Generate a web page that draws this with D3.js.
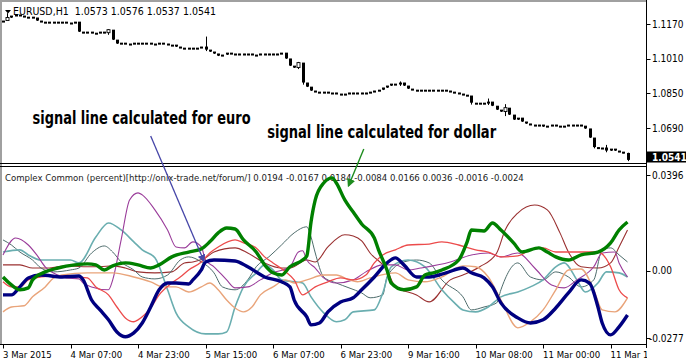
<!DOCTYPE html>
<html>
<head>
<meta charset="utf-8">
<script src="https://cdn.jsdelivr.net/npm/d3@7"></script>
<style>
  body { margin: 0; background: #fff; }
  svg text { font-family: "DejaVu Sans", "Liberation Sans", sans-serif; font-stretch: condensed; }
</style>
</head>
<body>
<div id="chart"></div>
<script>
// ---- price window (EURUSD H1) ----
const symbol = "EURUSD,H1";
const lastBar = { open: 1.0573, high: 1.0576, low: 1.0537, close: 1.0541 };
const firstOpen = 1.1180;
const closes = [
  1.1184, 1.1198, 1.1207, 1.1212, 1.1207, 1.1202, 1.1202, 1.1198, 1.1184, 1.1179,
  1.1179, 1.1175, 1.1179, 1.1175, 1.1179, 1.1175, 1.1175, 1.1179, 1.1133, 1.1128,
  1.1133, 1.1128, 1.1128, 1.1133, 1.1128, 1.1142, 1.1096, 1.1078, 1.1082, 1.1078,
  1.1078, 1.1082, 1.1078, 1.1082, 1.1082, 1.1078, 1.1078, 1.1082, 1.1078, 1.1073,
  1.1073, 1.1064, 1.1059, 1.1055, 1.1059, 1.1055, 1.1059, 1.1064, 1.1050, 1.1041,
  1.1032, 1.1022, 1.1027, 1.1036, 1.1032, 1.1032, 1.1027, 1.1032, 1.1032, 1.1027,
  1.1027, 1.1032, 1.1027, 1.1032, 1.1027, 1.1032, 1.1036, 1.1009, 1.0976, 1.0967,
  1.0990, 1.0898, 1.0879, 1.0861, 1.0856, 1.0852, 1.0856, 1.0852, 1.0852, 1.0847,
  1.0842, 1.0847, 1.0852, 1.0847, 1.0852, 1.0847, 1.0852, 1.0856, 1.0861, 1.0865,
  1.0875, 1.0884, 1.0893, 1.0889, 1.0898, 1.0884, 1.0870, 1.0865, 1.0861, 1.0865,
  1.0861, 1.0865, 1.0865, 1.0861, 1.0865, 1.0861, 1.0856, 1.0852, 1.0847, 1.0842,
  1.0838, 1.0805, 1.0801, 1.0805, 1.0801, 1.0810, 1.0791, 1.0773, 1.0764, 1.0782,
  1.0750, 1.0727, 1.0736, 1.0718, 1.0709, 1.0704, 1.0699, 1.0704, 1.0695, 1.0699,
  1.0704, 1.0699, 1.0695, 1.0699, 1.0704, 1.0699, 1.0704, 1.0699, 1.0686, 1.0644,
  1.0600, 1.0593, 1.0598, 1.0584, 1.0593, 1.0584, 1.0579, 1.0573, 1.0541
];
// [bar, high, low] where a wick shows past the body
const wicks = [
  [1, 1.1220, 1.1190], [25, 1.1146, 1.1120], [48, 1.1112, 1.1045], [70, 1.0995, 1.0962],
  [71, 1.0990, 1.0890], [94, 1.0905, 1.0884], [111, 1.0830, 1.0798], [115, 1.0826, 1.0796],
  [119, 1.0800, 1.0745], [140, 1.0640, 1.0596], [143, 1.0612, 1.0578], [148, 1.0576, 1.0537]
];
const priceTicks = [1.1170, 1.1010, 1.0850, 1.0690];

// ---- indicator window ----
const indicatorName = "Complex Common (percent)[http://onix-trade.net/forum/]";
const indicatorValues = [0.0194, -0.0167, 0.0184, -0.0084, 0.0166, 0.0036, -0.0016, -0.0024];
const indTicks = [0.0396, 0.00, -0.0277];
const indTickLabels = ["0.0396", "0.00", "-0.0277"];

// time axis: bar index -> label
const timeTicks = [0, 16, 32, 48, 64, 80, 96, 112, 128, 144];
const timeLabels = ["3 Mar 2015", "4 Mar 07:00", "4 Mar 23:00", "5 Mar 15:00", "6 Mar 07:00",
  "6 Mar 23:00", "9 Mar 16:00", "10 Mar 08:00", "11 Mar 00:00", "11 Mar 16:00"];

// [bar, value]
const usdLine = [[0,-0.0025],[2,-0.0058],[4,-0.0078],[6,-0.0070],[7,-0.0037],[10,-0.0004],[13,0.0012],[17,0.0025],[20,0.0029],[22,0.0025],[24,0.0004],[26,0.0021],[29,0.0033],[32,0.0025],[35,0.0012],[37,0.0025],[40,0.0058],[44,0.0078],[47,0.0091],[49,0.0120],[51,0.0157],[53,0.0177],[55,0.0173],[57,0.0128],[60,0.0078],[62,0.0025],[64,-0.0008],[66,-0.0017],[68,0.0017],[71,0.0045],[72,0.0062],[73,0.0202],[74,0.0293],[76,0.0363],[78,0.0384],[79,0.0363],[81,0.0293],[83,0.0243],[85,0.0194],[88,0.0136],[89,0.0087],[91,0.0004],[92,-0.0050],[95,-0.0078],[98,-0.0066],[100,-0.0017],[102,-0.0008],[104,0.0004],[108,0.0045],[110,0.0120],[111,0.0169],[114,0.0165],[116,0.0198],[118,0.0169],[121,0.0116],[123,0.0078],[127,0.0095],[129,0.0078],[131,0.0058],[134,0.0045],[137,0.0066],[141,0.0078],[144,0.0116],[146,0.0169],[148,0.0202]];
const eurLine = [[0,-0.0099],[2,-0.0099],[4,-0.0066],[6,-0.0029],[9,-0.0017],[14,-0.0025],[18,-0.0021],[19,-0.0037],[21,-0.0120],[23,-0.0161],[25,-0.0202],[27,-0.0252],[29,-0.0272],[31,-0.0256],[33,-0.0215],[35,-0.0149],[37,-0.0078],[39,-0.0050],[41,-0.0050],[44,-0.0054],[45,-0.0037],[47,0.0004],[48,0.0037],[50,0.0045],[55,0.0041],[58,0.0017],[62,-0.0025],[66,-0.0045],[68,-0.0066],[69,-0.0120],[72,-0.0190],[73,-0.0223],[75,-0.0215],[77,-0.0169],[80,-0.0128],[83,-0.0111],[85,-0.0078],[88,-0.0025],[91,0.0033],[93,0.0054],[95,0.0025],[98,-0.0025],[101,-0.0025],[105,-0.0008],[109,0.0012],[111,-0.0008],[114,-0.0029],[116,-0.0066],[118,-0.0132],[122,-0.0194],[125,-0.0215],[128,-0.0202],[131,-0.0153],[134,-0.0091],[137,-0.0037],[139,-0.0050],[141,-0.0149],[142,-0.0215],[144,-0.0264],[146,-0.0231],[148,-0.0182]];
const maroonLine = [[0,0.0025],[4,0.0025],[7,0.0012],[11,0.0012],[15,0.0021],[19,0.0017],[23,0.0017],[26,0.0021],[29,0.0012],[32,-0.0004],[36,-0.0008],[40,-0.0004],[43,0.0033],[45,0.0037],[48,0.0054],[50,0.0078],[55,0.0095],[58,0.0074],[62,0.0033],[66,0.0012],[68,0.0012],[72,0.0045],[74,0.0037],[77,0.0099],[81,0.0149],[83,0.0144],[85,0.0124],[87,0.0074],[91,0.0004],[93,-0.0066],[98,-0.0099],[101,-0.0128],[106,-0.0037],[109,-0.0017],[113,0.0017],[117,0.0074],[119,0.0169],[122,0.0239],[126,0.0272],[129,0.0252],[132,0.0157],[134,0.0078],[137,0.0017],[141,0.0012],[144,0.0033],[146,0.0099],[148,0.0169]];
const redLine = [[0,-0.0045],[2,-0.0066],[4,-0.0066],[6,-0.0037],[9,-0.0025],[12,-0.0021],[18,-0.0025],[20,-0.0029],[22,-0.0066],[25,-0.0099],[27,-0.0149],[29,-0.0194],[31,-0.0210],[32,-0.0202],[35,-0.0153],[37,-0.0099],[40,-0.0050],[42,-0.0025],[44,0.0004],[47,0.0037],[49,0.0074],[51,0.0099],[55,0.0128],[57,0.0116],[60,0.0095],[62,0.0058],[64,0.0033],[67,-0.0004],[69,-0.0037],[71,-0.0099],[72,-0.0091],[74,-0.0066],[77,-0.0045],[80,-0.0029],[83,-0.0037],[86,-0.0017],[88,0.0033],[90,0.0066],[93,0.0087],[96,0.0107],[101,0.0111],[104,0.0120],[108,0.0107],[112,0.0087],[115,0.0078],[118,0.0058],[122,0.0062],[125,0.0087],[128,0.0095],[131,0.0078],[137,0.0078],[141,0.0078],[144,0.0017],[146,-0.0078],[148,-0.0111]];
const peachLine = [[0,-0.0169],[2,-0.0149],[5,-0.0144],[7,-0.0107],[10,-0.0066],[12,-0.0029],[14,-0.0017],[20,-0.0008],[26,-0.0008],[31,-0.0025],[35,-0.0045],[38,-0.0066],[41,-0.0066],[44,-0.0087],[47,-0.0066],[49,-0.0050],[51,-0.0078],[53,-0.0120],[55,-0.0153],[57,-0.0169],[59,-0.0149],[61,-0.0099],[64,-0.0066],[67,-0.0037],[69,-0.0050],[72,-0.0037],[76,-0.0017],[79,-0.0017],[82,-0.0037],[84,-0.0045],[87,-0.0029],[93,-0.0008],[96,-0.0037],[100,-0.0045],[104,-0.0025],[109,0.0021],[112,0.0017],[115,-0.0025],[118,-0.0120],[122,-0.0235],[125,-0.0210],[128,-0.0161],[131,-0.0078],[134,0.0004],[137,0.0008],[140,-0.0078],[142,-0.0161],[145,-0.0169],[148,-0.0111]];
const grayLine = [[0,0.0128],[2,0.0107],[4,0.0078],[7,0.0045],[9,0.0012],[12,-0.0004],[16,0.0004],[18,0.0012],[21,0.0074],[24,0.0103],[26,0.0078],[28,0.0037],[31,0.0004],[33,-0.0025],[36,-0.0033],[39,-0.0017],[42,0.0045],[44,0.0058],[47,0.0037],[50,-0.0008],[52,-0.0066],[55,-0.0078],[58,-0.0037],[60,0.0017],[63,0.0058],[66,0.0107],[69,0.0157],[72,0.0182],[73,0.0140],[74,0.0074],[76,-0.0025],[79,-0.0050],[82,-0.0070],[85,-0.0091],[87,-0.0111],[90,-0.0099],[91,-0.0025],[95,0.0037],[98,0.0045],[101,0.0033],[104,-0.0037],[109,-0.0107],[111,-0.0161],[114,-0.0149],[117,-0.0132],[118,-0.0078],[122,0.0033],[125,-0.0025],[128,-0.0037],[131,-0.0004],[134,-0.0025],[137,-0.0066],[140,-0.0037],[142,0.0087],[144,0.0095],[146,0.0066],[148,0.0037]];
const cadetLine = [[0,0.0078],[4,0.0087],[6,0.0066],[9,0.0045],[12,0.0045],[16,0.0045],[18,0.0033],[22,0.0140],[25,0.0198],[28,0.0169],[31,0.0120],[33,0.0087],[36,0.0054],[39,-0.0078],[41,-0.0173],[44,-0.0231],[48,-0.0260],[51,-0.0260],[53,-0.0252],[55,-0.0149],[57,-0.0066],[60,-0.0008],[62,0.0025],[64,0.0004],[66,-0.0037],[71,-0.0050],[73,-0.0107],[76,-0.0173],[79,-0.0210],[81,-0.0202],[83,-0.0169],[88,-0.0161],[90,-0.0091],[92,0.0017],[96,0.0045],[100,0.0017],[104,-0.0078],[107,-0.0132],[109,-0.0161],[112,-0.0169],[115,-0.0149],[118,-0.0107],[122,-0.0087],[125,-0.0066],[128,-0.0037],[131,0.0017],[133,0.0033],[136,-0.0037],[138,-0.0087],[141,-0.0050],[143,-0.0004],[146,-0.0008],[148,-0.0025]];
const purpleLine = [[0,0.0066],[3,0.0136],[6,0.0107],[8,0.0066],[10,0.0017],[13,-0.0017],[15,-0.0029],[18,-0.0033],[19,-0.0050],[21,-0.0066],[25,-0.0078],[26,-0.0037],[28,0.0128],[30,0.0293],[32,0.0322],[33,0.0314],[36,0.0252],[39,0.0169],[41,0.0099],[43,0.0095],[45,0.0120],[47,0.0099],[48,0.0045],[50,0.0017],[53,-0.0037],[55,-0.0070],[58,-0.0066],[61,-0.0037],[64,-0.0008],[68,0.0017],[70,0.0078],[71,0.0083],[72,0.0045],[74,0.0012],[76,-0.0029],[79,-0.0050],[83,-0.0037],[86,-0.0004],[90,0.0025],[93,0.0025],[96,0.0004],[99,0.0012],[106,0.0037],[111,0.0066],[115,0.0074],[118,0.0058],[122,0.0074],[126,0.0012],[130,-0.0058],[133,-0.0070],[136,-0.0037],[140,0.0017],[142,0.0074],[145,0.0078],[146,0.0033],[148,-0.0025]];

// hand-drawn notes on the chart, anchored in time/price like MT4 objects
const notes = [
  { text: "signal line calculated for euro", bar: 7, price: 1.0710, width: 218 },
  { text: "signal line calculated for dollar", bar: 62.6, price: 1.0643, width: 229 }
];
const euroPointer = { fromBar: 35, fromPrice: 1.0653, toBar: 47.6, toValue: 0.0041 };
const dollarPointer = { fromBar: 85.5, fromPrice: 1.0593, toBar: 81.9, toValue: 0.0352 };

const W = 686, H = 363;
const axisX = 646.5;
const mainBottom = 163.5, subTop = 166.5, subBottom = 344.5;

const svg = d3.select("#chart").append("svg")
    .attr("width", W)
    .attr("height", H)
    .style("display", "block");

const x = d3.scaleLinear().domain([0, closes.length - 1]).range([3, 627.5]);
const yPrice = d3.scaleLinear().domain([1.0690, 1.1170]).range([128, 24]);
const yInd = d3.scaleLinear().domain([-0.0277, 0.0396]).range([338, 175]);

const defs = svg.append("defs");
defs.append("clipPath").attr("id", "clipMain")
    .append("rect").attr("x", 2).attr("y", 2).attr("width", axisX - 2).attr("height", mainBottom - 2.5);
defs.append("clipPath").attr("id", "clipSub")
    .append("rect").attr("x", 2).attr("y", subTop + 1).attr("width", axisX - 2).attr("height", subBottom - subTop - 1.5);
defs.append("clipPath").attr("id", "clipTime")
    .append("rect").attr("x", 0).attr("y", subBottom).attr("width", axisX + 0.5).attr("height", H - subBottom);

function arrowMarker(id, color) {
    defs.append("marker")
        .attr("id", id)
        .attr("viewBox", "0 0 10 10")
        .attr("refX", 8).attr("refY", 5)
        .attr("markerWidth", 6).attr("markerHeight", 6)
        .attr("orient", "auto")
        .append("path").attr("d", "M0,0L10,5L0,10z").attr("fill", color);
}
arrowMarker("arrowGreen", "#1e8c1e");
arrowMarker("arrowBlue", "#4646a8");

// ---- frames ----
svg.append("rect").attr("x", 0).attr("y", 0).attr("width", axisX + 0.5).attr("height", 2).attr("fill", "#a0a0a0");
svg.append("rect").attr("x", 0).attr("y", 0).attr("width", 2).attr("height", subBottom).attr("fill", "#a0a0a0");
[mainBottom, subTop, subBottom].forEach(yy => {
    svg.append("line").attr("x1", 0).attr("x2", axisX).attr("y1", yy).attr("y2", yy)
        .attr("stroke", "#000").attr("stroke-width", 1);
});
svg.append("line").attr("x1", axisX).attr("x2", axisX).attr("y1", 0).attr("y2", 348)
    .attr("stroke", "#000");

// ---- candles ----
const wickMap = new Map(wicks.map(w => [w[0], w]));
const bars = closes.map((c, i) => {
    const o = i === 0 ? firstOpen : closes[i - 1];
    const w = wickMap.get(i);
    return { i, o, c, h: w ? w[1] : Math.max(o, c), l: w ? w[2] : Math.min(o, c) };
});
const hollow = d => d.c > d.o && yPrice(d.o) - yPrice(d.c) >= 3;

const main = svg.append("g").attr("clip-path", "url(#clipMain)");
const candle = main.selectAll("g.candle").data(bars).enter().append("g").attr("class", "candle");
candle.append("line")
    .attr("x1", d => Math.round(x(d.i)) + 0.5)
    .attr("x2", d => Math.round(x(d.i)) + 0.5)
    .attr("y1", d => yPrice(d.h))
    .attr("y2", d => yPrice(d.l))
    .attr("stroke", "#000");
candle.append("rect")
    .attr("x", d => Math.round(x(d.i)) - 1)
    .attr("width", 3)
    .attr("y", d => Math.min(yPrice(d.o), yPrice(d.c)) - 0.4)
    .attr("height", d => Math.max(2, Math.abs(yPrice(d.o) - yPrice(d.c))))
    .attr("fill", d => hollow(d) ? "#fff" : "#000")
    .attr("stroke", d => hollow(d) ? "#000" : "none")
    .attr("stroke-width", 0.9);

// ---- price scale ----
priceTicks.forEach(p => {
    svg.append("line").attr("x1", axisX).attr("x2", axisX + 4)
        .attr("y1", Math.round(yPrice(p)) + 0.5).attr("y2", Math.round(yPrice(p)) + 0.5).attr("stroke", "#000");
    svg.append("text").attr("x", 652).attr("y", yPrice(p) + 3.5)
        .attr("font-size", 10).attr("fill", "#000").text(p.toFixed(4));
});
const lastY = Math.min(yPrice(lastBar.close), 157);
svg.append("rect").attr("x", axisX + 0.5).attr("y", lastY - 5.5).attr("width", W - axisX).attr("height", 11).attr("fill", "#000");
svg.append("text").attr("x", 652).attr("y", lastY + 3.5)
    .attr("font-size", 10).attr("fill", "#fff").attr("font-weight", "bold").text(lastBar.close.toFixed(4));

// ---- header of price window ----
svg.append("path").attr("d", "M5,10L11,10L8,13.5Z").attr("fill", "#000");
svg.append("text").attr("x", 13).attr("y", 15).attr("font-size", 10.5).attr("fill", "#000")
    .style("white-space", "pre")
    .text(`${symbol}  ${[lastBar.open, lastBar.high, lastBar.low, lastBar.close].map(v => v.toFixed(4)).join(" ")}`);

// ---- indicator window ----
svg.append("text").attr("x", 5).attr("y", 181).attr("font-size", 9.5).attr("fill", "#222")
    .text(`${indicatorName} ${indicatorValues.map(v => v.toFixed(4)).join(" ")}`);

indTicks.forEach((v, k) => {
    svg.append("line").attr("x1", axisX).attr("x2", axisX + 4)
        .attr("y1", Math.round(yInd(v)) + 0.5).attr("y2", Math.round(yInd(v)) + 0.5).attr("stroke", "#000");
    svg.append("text").attr("x", v < 0 ? 649 : 652).attr("y", yInd(v) + 3.5)
        .attr("font-size", 10).attr("fill", "#000").text(indTickLabels[k]);
});

const line = d3.line()
    .x(d => x(d[0]))
    .y(d => yInd(d[1]))
    .curve(d3.curveMonotoneX);

const series = [
    { data: maroonLine, color: "#9a3030", width: 1.1 },
    { data: grayLine, color: "#4d6b6b", width: 1.0 },
    { data: cadetLine, color: "#6aaeb0", width: 1.6 },
    { data: purpleLine, color: "#9a3c9a", width: 1.1 },
    { data: peachLine, color: "#e9a47a", width: 1.4 },
    { data: redLine, color: "#ec4b4b", width: 1.3 },
    { data: eurLine, color: "#000080", width: 3.4 },
    { data: usdLine, color: "#008000", width: 3.4 }
];

const sub = svg.append("g").attr("clip-path", "url(#clipSub)");
sub.selectAll("path.ind").data(series).enter().append("path")
    .attr("class", "ind")
    .attr("d", d => line(d.data))
    .attr("fill", "none")
    .attr("stroke", d => d.color)
    .attr("stroke-width", d => d.width)
    .attr("stroke-linejoin", "round");

// ---- time axis ----
const timeG = svg.append("g").attr("clip-path", "url(#clipTime)");
timeTicks.forEach((b, k) => {
    const xx = Math.round(x(b)) + 0.5;
    timeG.append("line").attr("x1", xx).attr("x2", xx).attr("y1", subBottom).attr("y2", subBottom + 4).attr("stroke", "#000");
    timeG.append("text").attr("x", x(b)).attr("y", 358).attr("font-size", 9.5).attr("fill", "#000").text(timeLabels[k]);
});

// ---- notes and pointers ----
notes.forEach(n => {
    svg.append("text")
        .attr("x", x(n.bar))
        .attr("y", yPrice(n.price))
        .attr("font-size", 18)
        .attr("font-weight", "bold")
        .attr("fill", "#000")
        .attr("textLength", n.width)
        .attr("lengthAdjust", "spacingAndGlyphs")
        .text(n.text);
});
svg.append("line")
    .attr("x1", x(euroPointer.fromBar)).attr("y1", yPrice(euroPointer.fromPrice))
    .attr("x2", x(euroPointer.toBar)).attr("y2", yInd(euroPointer.toValue))
    .attr("stroke", "#4646a8").attr("stroke-width", 1.3)
    .attr("marker-end", "url(#arrowBlue)");
svg.append("line")
    .attr("x1", x(dollarPointer.fromBar)).attr("y1", yPrice(dollarPointer.fromPrice))
    .attr("x2", x(dollarPointer.toBar)).attr("y2", yInd(dollarPointer.toValue))
    .attr("stroke", "#1e8c1e").attr("stroke-width", 1.4)
    .attr("marker-end", "url(#arrowGreen)");
</script>
</body>
</html>
